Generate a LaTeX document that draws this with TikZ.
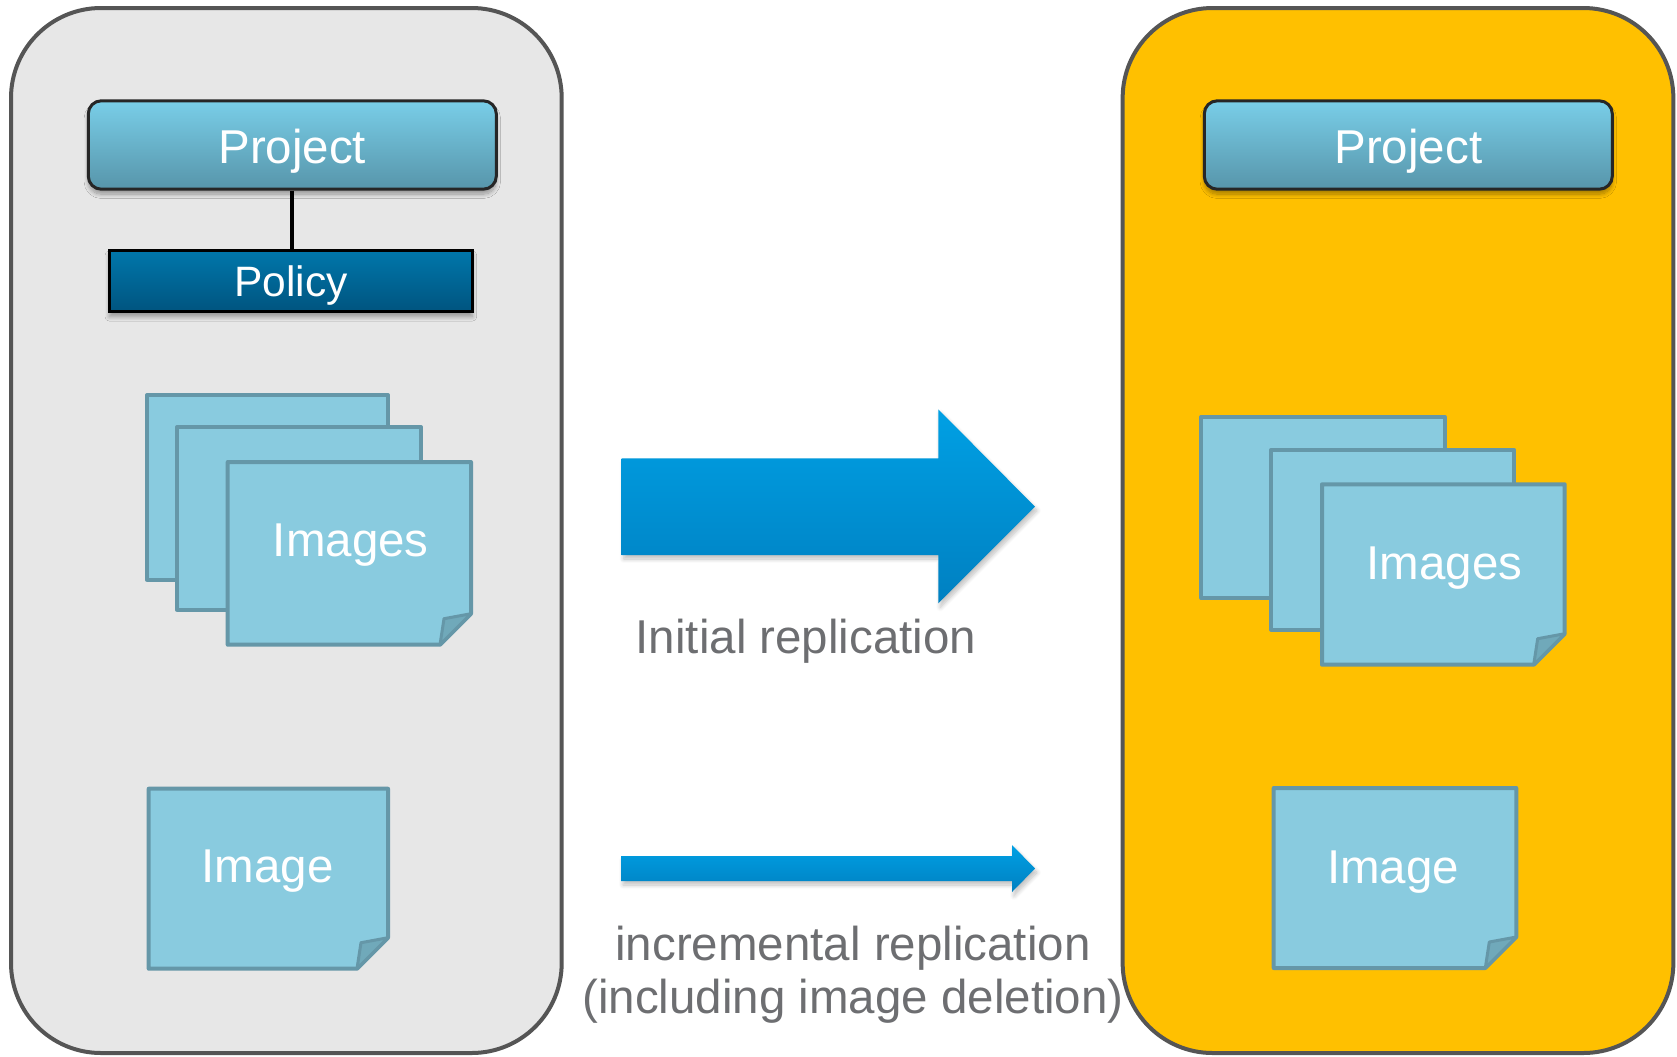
\documentclass[tikz,border=0pt]{standalone}
\usepackage{fontspec}
\setmainfont{Liberation Sans}
\usetikzlibrary{shadows.blur}

\definecolor{panelgray}{HTML}{E7E7E7}
\definecolor{panelyellow}{HTML}{FFC000}
\definecolor{panelline}{HTML}{555555}
\definecolor{projtop}{HTML}{79CEE8}
\definecolor{projbot}{HTML}{5795AA}
\definecolor{poltop}{HTML}{0077AB}
\definecolor{polbot}{HTML}{00547F}
\definecolor{sheetfill}{HTML}{89CBDF}
\definecolor{sheetline}{HTML}{6597A8}
\definecolor{foldfill}{HTML}{70A9BA}
\definecolor{arrowtop}{HTML}{00A0E4}
\definecolor{arrowbot}{HTML}{0080C1}
\definecolor{labelgray}{HTML}{6D6E71}

% plain sheet and sheet with a curled lower-right corner (x1,y1,x2,y2 in px)
\newcommand\plainsheet[4]{\draw[sheet] (#1,#2) rectangle (#3,#4);}
\newcommand\curlsheet[4]{%
  \draw[sheet] (#1,#2) -- (#3,#2) -- (#3,{#4-31}) -- ({#3-31},#4) -- (#1,#4) -- cycle;
  \draw[foldpart] ({#3-31},#4) -- ({#3-27},{#4-26}) -- (#3,{#4-31}) -- cycle;}

\begin{document}
\begin{tikzpicture}[x=0.5pt,y=-0.5pt,
  panel/.style={draw=panelline, line width=2pt, rounded corners=45pt,
    inner sep=0pt, minimum width=275.35pt, minimum height=522.5pt},
  projbox/.style={draw=black!85, line width=1.5pt, rounded corners=6.5pt,
    top color=projtop, bottom color=projbot, text=white,
    font=\fontsize{23.75pt}{28pt}\selectfont, inner sep=0pt,
    text height=18.3pt, text depth=0pt,
    minimum width=204pt, minimum height=44.2pt,
    blur shadow={shadow xshift=0pt, shadow yshift=-2.5pt, shadow blur steps=10, shadow opacity=35}},
  polbox/.style={draw=black, line width=1.5pt,
    top color=poltop, bottom color=polbot, text=white,
    font=\fontsize{21.25pt}{26pt}\selectfont, inner sep=0pt,
    text height=15.7pt, text depth=0pt,
    minimum width=181.6pt, minimum height=30.8pt,
    blur shadow={shadow xshift=0pt, shadow yshift=-2.5pt, shadow blur steps=10, shadow opacity=35}},
  sheet/.style={draw=sheetline, fill=sheetfill, line width=2pt, line join=round},
  foldpart/.style={draw=sheetline, fill=foldfill, line width=1.5pt, line join=round},
  sheettext/.style={text=white, font=\fontsize{23.75pt}{28pt}\selectfont, anchor=base, inner sep=0pt},
  caption/.style={text=labelgray, font=\fontsize{23.75pt}{28pt}\selectfont, anchor=base, inner sep=0pt},
  blockarrow/.style={top color=arrowtop, bottom color=arrowbot, draw=none,
    blur shadow={shadow xshift=1pt, shadow yshift=-2pt, shadow blur steps=8, shadow opacity=25}}
]
\useasboundingbox (0,0) rectangle (1677,1056);

% the two registries
\node[panel, fill=panelgray]   (source) at (286.35,530.5) {};
\node[panel, fill=panelyellow] (target) at (1398,530.5) {};

% source registry: project with its replication policy
\node[projbox] (projL) at (292.3,145) {Project};
\node[polbox]  (polL)  at (290.9,281) {Policy};
\draw[line width=2pt] (projL.south) -- (projL.south |- polL.north);

% source registry: stack of images
\plainsheet{147}{395}{388}{579.7}
\plainsheet{177}{427}{421}{609.7}
\curlsheet{227.7}{462}{471}{644.7}
\node[sheettext] (imgsL) at (350.8,556.7) {Images};

% source registry: single image
\curlsheet{148.7}{788.7}{388}{968.7}
\node[sheettext] (imgL) at (267.8,882.7) {Image};

% target registry: project
\node[projbox] (projR) at (1408.3,145) {Project};

% target registry: stack of images
\plainsheet{1201.3}{417}{1444.7}{598}
\plainsheet{1271.3}{449.7}{1514}{629.7}
\curlsheet{1322}{484.3}{1564.7}{664.7}
\node[sheettext] (imgsR) at (1444.5,579.3) {Images};

% target registry: single image
\curlsheet{1273.7}{788}{1516.3}{968}
\node[sheettext] (imgR) at (1393.2,883.3) {Image};

% initial replication arrow
\shade[blockarrow] (621.7,458.3) -- (938.3,458.3) -- (938.3,409.3) -- (1035,506.7)
  -- (938.3,603.3) -- (938.3,555) -- (621.7,555) -- cycle;
\node[caption] (initlbl) at (806,653) {Initial replication};

% incremental replication arrow
\shade[blockarrow] (621,856) -- (1012,856) -- (1012,845) -- (1035,868.5)
  -- (1012,892) -- (1012,881) -- (621,881) -- cycle;
\node[caption] (incrlbl)  at (853,960) {incremental replication};
\node[caption] (incrlblb) at (853,1013.3) {(including image deletion)};
\end{tikzpicture}
\end{document}
